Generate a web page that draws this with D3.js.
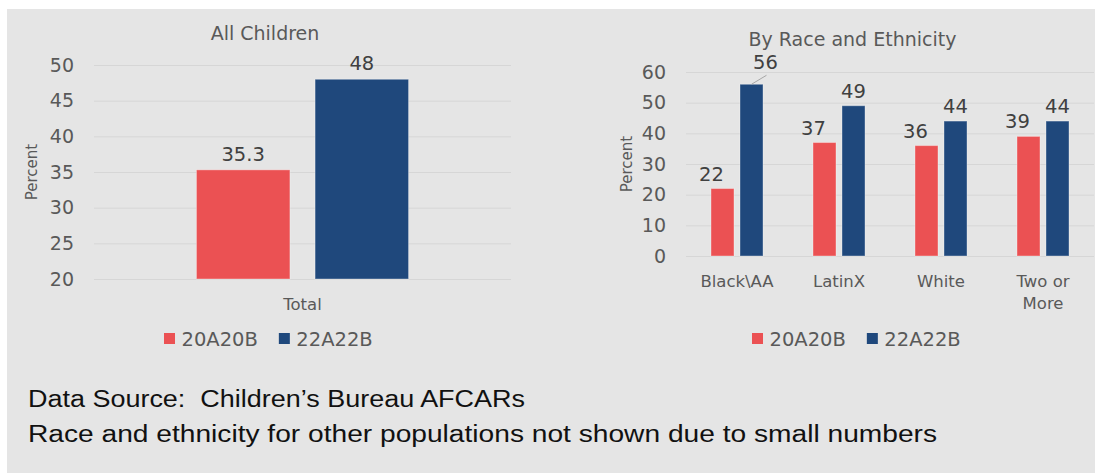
<!DOCTYPE html>
<html>
<head>
<meta charset="utf-8">
<script src="https://cdn.jsdelivr.net/npm/d3@7"></script>
<style>
  html, body { margin: 0; padding: 0; background: #ffffff; }
  svg { display: block; }
  text { font-family: "DejaVu Sans", sans-serif; }
  text.note { font-family: "Liberation Sans", Arial, sans-serif; white-space: pre; }
</style>
</head>
<body>
<svg id="chart" width="1095" height="473"></svg>
<script>
// ---- data ----
const series = ["20A20B", "22A22B"];
const seriesColors = ["#EB5153", "#1F487C"];

const totalCategories = ["Total"];
const total20A20B = [35.3];
const total22A22B = [48];
const totalTicks = [20, 25, 30, 35, 40, 45, 50];

const raceCategories = ["Black\\AA", "LatinX", "White", "Two or More"];
const race20A20B = [22, 37, 36, 39];
const race22A22B = [56, 49, 44, 44];
const raceTicks = [0, 10, 20, 30, 40, 50, 60];

const notes = [
  "Data Source:  Children\u2019s Bureau AFCARs",
  "Race and ethnicity for other populations not shown due to small numbers"
];

// ---- drawing ----
const svg = d3.select("#chart");
const textColor = "#595959";

svg.append("rect")
  .attr("x", 7).attr("y", 9)
  .attr("width", 1088).attr("height", 464)
  .attr("fill", "#e5e5e5");

function wrap(sel, maxWidth, lineHeight) {
  sel.each(function () {
    const t = d3.select(this);
    const words = t.text().split(/\s+/);
    t.text(null);
    let line = [];
    let tspan = t.append("tspan").attr("x", t.attr("x")).attr("dy", 0);
    words.forEach(w => {
      line.push(w);
      tspan.text(line.join(" "));
      if (tspan.node().getComputedTextLength() > maxWidth && line.length > 1) {
        line.pop();
        tspan.text(line.join(" "));
        line = [w];
        tspan = t.append("tspan").attr("x", t.attr("x")).attr("dy", lineHeight).text(w);
      }
    });
  });
}

function panel(cfg) {
  const g = svg.append("g");
  const [x0, x1] = cfg.xRange;
  const [yBottom, yTop] = cfg.yRange;

  const y = d3.scaleLinear().domain(cfg.domain).range([yBottom, yTop]);
  const xBand = d3.scaleBand().domain(cfg.categories).range([x0, x1])
    .paddingInner(cfg.padInner).paddingOuter(cfg.padOuter);
  const xSeries = d3.scaleBand().domain(series).range([0, xBand.bandwidth()])
    .paddingInner(cfg.seriesPad);

  // y axis with gridlines
  const yAxis = d3.axisLeft(y).tickValues(cfg.ticks)
    .tickSizeInner(-(x1 - x0)).tickSizeOuter(0).tickPadding(20);
  const ya = g.append("g").attr("transform", `translate(${x0},0)`).call(yAxis);
  ya.select(".domain").remove();
  ya.selectAll(".tick line").attr("stroke", "#d6d6d6").attr("stroke-width", 1);
  ya.selectAll(".tick text")
    .attr("fill", textColor).attr("font-size", 19)
    .style("font-family", "'DejaVu Sans', sans-serif");

  // axis title
  g.append("text")
    .attr("transform", `translate(${cfg.yTitleX},${(yBottom + yTop) / 2}) rotate(-90)`)
    .attr("text-anchor", "middle").attr("dy", "0.35em")
    .attr("fill", textColor).attr("font-size", 15)
    .text("Percent");

  // chart title
  g.append("text")
    .attr("x", cfg.titleX).attr("y", cfg.titleY)
    .attr("text-anchor", "middle")
    .attr("fill", textColor).attr("font-size", 19)
    .text(cfg.title);

  // bars
  const rows = cfg.categories.map((c, i) => ({
    cat: c,
    vals: [cfg.values[0][i], cfg.values[1][i]]
  }));
  const groups = g.selectAll("g.grp").data(rows).join("g")
    .attr("class", "grp")
    .attr("transform", d => `translate(${xBand(d.cat)},0)`);
  groups.selectAll("rect")
    .data(d => d.vals.map((v, k) => ({ key: series[k], k, v, cat: d.cat })))
    .join("rect")
    .attr("x", d => xSeries(d.key))
    .attr("y", d => y(d.v))
    .attr("width", xSeries.bandwidth())
    .attr("height", d => y(cfg.domain[0]) - y(d.v))
    .attr("fill", d => seriesColors[d.k])
    .attr("stroke", "rgba(255,255,255,0.35)")
    .attr("stroke-width", 1);

  // value labels
  groups.each(function (d) {
    const grp = d3.select(this);
    d.vals.forEach((v, k) => {
      const cx = xSeries(series[k]) + xSeries.bandwidth() / 2;
      const lift = cfg.labelLift(d.cat, k);
      const lx = cx + cfg.labelShift(d.cat, k);
      const ly = y(v) - lift;
      if (lift > 12) {
        grp.append("line")
          .attr("x1", cx).attr("y1", y(v))
          .attr("x2", lx + 1).attr("y2", ly + 6)
          .attr("stroke", "#a6a6a6").attr("stroke-width", 1);
      }
      grp.append("text")
        .attr("x", lx).attr("y", ly)
        .attr("text-anchor", "middle")
        .attr("fill", "#404040").attr("font-size", 19.5)
        .text(v);
    });
  });

  // category labels
  const cats = g.selectAll("text.cat").data(cfg.categories).join("text")
    .attr("class", "cat")
    .attr("x", d => xBand(d) + xBand.bandwidth() / 2)
    .attr("y", yBottom + 31)
    .attr("text-anchor", "middle")
    .attr("fill", textColor).attr("font-size", 16.5)
    .text(d => d);
  cats.call(wrap, xBand.step() * 0.8, 22);

  // legend
  let lx = cfg.legendX;
  series.forEach((s, k) => {
    g.append("rect")
      .attr("x", lx).attr("y", cfg.legendY - 13)
      .attr("width", 11).attr("height", 11)
      .attr("fill", seriesColors[k]);
    const t = g.append("text")
      .attr("x", lx + 17.5).attr("y", cfg.legendY)
      .attr("fill", textColor).attr("font-size", 19.5)
      .text(s);
    lx += 17.5 + t.node().getComputedTextLength() + 21;
  });
}

panel({
  title: "All Children", titleX: 265, titleY: 40,
  categories: totalCategories,
  values: [total20A20B, total22A22B],
  domain: [20, 50], ticks: totalTicks,
  xRange: [94, 511], yRange: [279, 65],
  padInner: 0, padOuter: 0.483, seriesPad: 0.212,
  yTitleX: 31.5,
  labelLift: () => 9,
  labelShift: () => 0,
  legendX: 164, legendY: 346
});

panel({
  title: "By Race and Ethnicity", titleX: 852.5, titleY: 46,
  categories: raceCategories,
  values: [race20A20B, race22A22B],
  domain: [0, 60], ticks: raceTicks,
  xRange: [686, 1094], yRange: [256, 72],
  padInner: 0.49, padOuter: 0.245, seriesPad: 0.207,
  yTitleX: 627,
  labelLift: (cat, k) => (cat === "Black\\AA" && k === 1) ? 15 : 8,
  labelShift: (cat, k) => k === 0 ? -11 : (cat === "Black\\AA" ? 14 : 0),
  legendX: 752, legendY: 346
});

// footnotes
const noteWidths = [497, 909];
notes.forEach((n, i) => {
  svg.append("text")
    .attr("class", "note")
    .attr("x", 28).attr("y", 407 + i * 35)
    .attr("fill", "#111111").attr("font-size", 23)
    .attr("textLength", noteWidths[i])
    .attr("lengthAdjust", "spacingAndGlyphs")
    .text(n);
});
</script>
</body>
</html>
